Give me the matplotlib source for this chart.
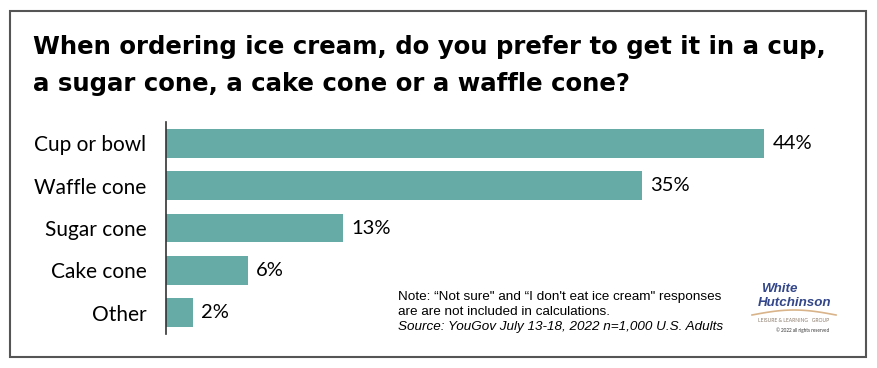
import numpy as np
import matplotlib.pyplot as plt
from matplotlib.patches import Rectangle

categories = ["Cup or bowl", "Waffle cone", "Sugar cone", "Cake cone", "Other"]
values = [44, 35, 13, 6, 2]

W, H = 878, 368
fig = plt.figure(figsize=(W / 100, H / 100), dpi=100)
plt.rcParams['font.family'] = ['Lato', 'DejaVu Sans']

# outer frame
fig.patches.append(Rectangle((10 / W, 11 / H), 856 / W, 346 / H, transform=fig.transFigure,
                             fill=False, edgecolor='#555555', linewidth=1.5))

title_font = dict(fontsize=17.6, fontweight='bold', family=['DejaVu Sans'], va='center', ha='left')
fig.text(33 / W, 1 - 47 / H, "When ordering ice cream, do you prefer to get it in a cup,", **title_font)
fig.text(33 / W, 1 - 84 / H, "a sugar cone, a cake cone or a waffle cone?", **title_font)

# plot area: x=0 at 166px, 13.6 px per percent
ax = fig.add_axes([166 / W, 1 - 334 / H, 700 / W, 212 / H])
ax.barh(range(len(values)), values, height=0.68, color='#67aba7')
ax.set_xlim(0, 700 / 13.6)
ax.set_ylim(len(values) - 0.5, -0.5)
ax.set_yticks(range(len(values)))
ax.set_yticklabels(categories, fontsize=15)
ax.tick_params(axis='y', length=0, pad=14)
ax.set_xticks([])
for s in ['top', 'right', 'bottom']:
    ax.spines[s].set_visible(False)
ax.spines['left'].set_color('#333333')
ax.spines['left'].set_linewidth(1.2)
ax.patch.set_alpha(0)

for i, v in enumerate(values):
    ax.text(v + 0.6, i, f"{v}%", fontsize=14.5, va='center', ha='left')

# note
note_font = dict(fontsize=9.7, family=['Liberation Sans'], va='center')
fig.text(398 / W, 1 - 297 / H, "Note: \u201cNot sure\" and \u201cI don't eat ice cream\" responses", **note_font)
fig.text(398 / W, 1 - 312 / H, "are are not included in calculations.", **note_font)
fig.text(398 / W, 1 - 327 / H, "Source: YouGov July 13-18, 2022 n=1,000 U.S. Adults", style='italic', **note_font)

# logo
logo_font = dict(fontsize=9.6, style='italic', fontweight='bold', color='#33478a',
                 family=['Liberation Sans'], va='center')
fig.text(761 / W, 1 - 289 / H, "White", **logo_font)
fig.text(758 / W, 1 - 303 / H, "Hutchinson", **logo_font)
sx = np.linspace(752, 836, 50)
sy = 315 - 5 * np.sin((sx - 752) / 84 * np.pi)
fig.add_artist(plt.Line2D(sx / W, 1 - sy / H, color='#d9b48a', linewidth=1.2))
fig.text(758 / W, 1 - 320 / H, "LEISURE & LEARNING   GROUP", fontsize=3.6, color='#8a7a6a', va='center')
fig.text(776 / W, 1 - 330 / H, "\u00a9 2022 all rights reserved", fontsize=3.3, color='#333333', va='center')

fig.savefig('out.png', dpi=100)
